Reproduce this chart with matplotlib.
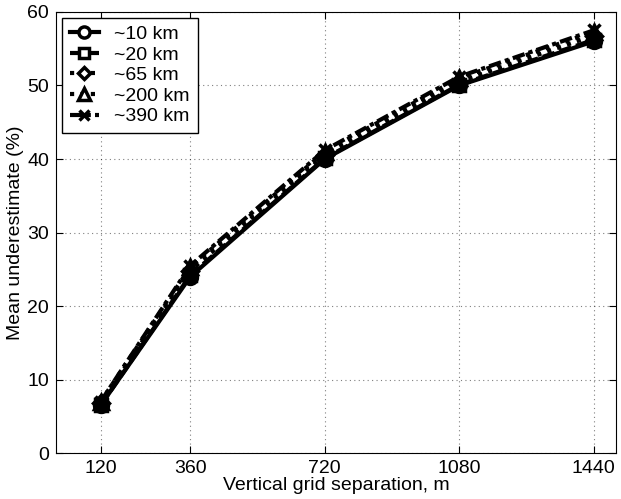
import numpy as np
import matplotlib.pyplot as plt
from matplotlib.lines import Line2D

plt.rcParams['font.family'] = ['Liberation Sans', 'DejaVu Sans']

separation = [120, 360, 720, 1080, 1440]
labels = ['~10 km', '~20 km', '~65 km', '~200 km', '~390 km']
under_10 = [6.5, 24.0, 40.0, 50.0, 56.0]
under_20 = [6.5, 24.2, 40.1, 50.1, 56.2]
under_65 = [6.8, 24.8, 40.5, 50.5, 56.8]
under_200 = [7.0, 25.3, 41.0, 51.0, 57.3]
under_390 = [7.0, 25.5, 41.2, 51.2, 57.5]

series = [under_10, under_20, under_65, under_200, under_390]
styles = ['-', (0, (3, 1.2)), (0, (1, 1.5)), (0, (1, 1.5)), (0, (3, 1, 1, 1))]
markers = ['o', 's', 'D', '^', 'x']
msizes = [9, 8, 7, 9, 8]

fig = plt.figure(figsize=(6.21, 4.99), dpi=100)
ax = fig.add_axes([0.090, 0.092, 0.902, 0.884])

handles = []
for vals, ls, mk, ms, lab in zip(series, styles, markers, msizes, labels):
    ax.plot(separation, vals, color='black', linestyle=ls, linewidth=3.0,
            marker=mk, markersize=ms + 1, markerfacecolor='black',
            markeredgecolor='black', markeredgewidth=2.5)
    handles.append(Line2D([], [], color='black', linestyle=ls, linewidth=3,
                          marker=mk, markersize=ms - 1, markerfacecolor='white',
                          markeredgecolor='black', markeredgewidth=2.5, label=lab))

ax.set_xlim(0, 1500)
ax.set_ylim(0, 60)
ax.set_xticks(separation)
ax.set_yticks(np.arange(0, 61, 10))
ax.tick_params(direction='in', labelsize=14, length=5, top=True, right=True,
               labeltop=False, labelright=False, pad=5)
ax.grid(True, linestyle=(0, (1, 3)), color='black', linewidth=0.8, alpha=0.5)
ax.set_xlabel('Vertical grid separation, m', fontsize=14, labelpad=0)
ax.set_ylabel('Mean underestimate (%)', fontsize=14, labelpad=2)

leg = ax.legend(handles=handles, loc='upper left', fontsize=14, handlelength=1.5,
                fancybox=False, edgecolor='black', framealpha=1,
                borderaxespad=0.3, labelspacing=0.15, handletextpad=0.8)
leg.get_frame().set_linewidth(1.0)

fig.savefig('out.png', dpi=100)
